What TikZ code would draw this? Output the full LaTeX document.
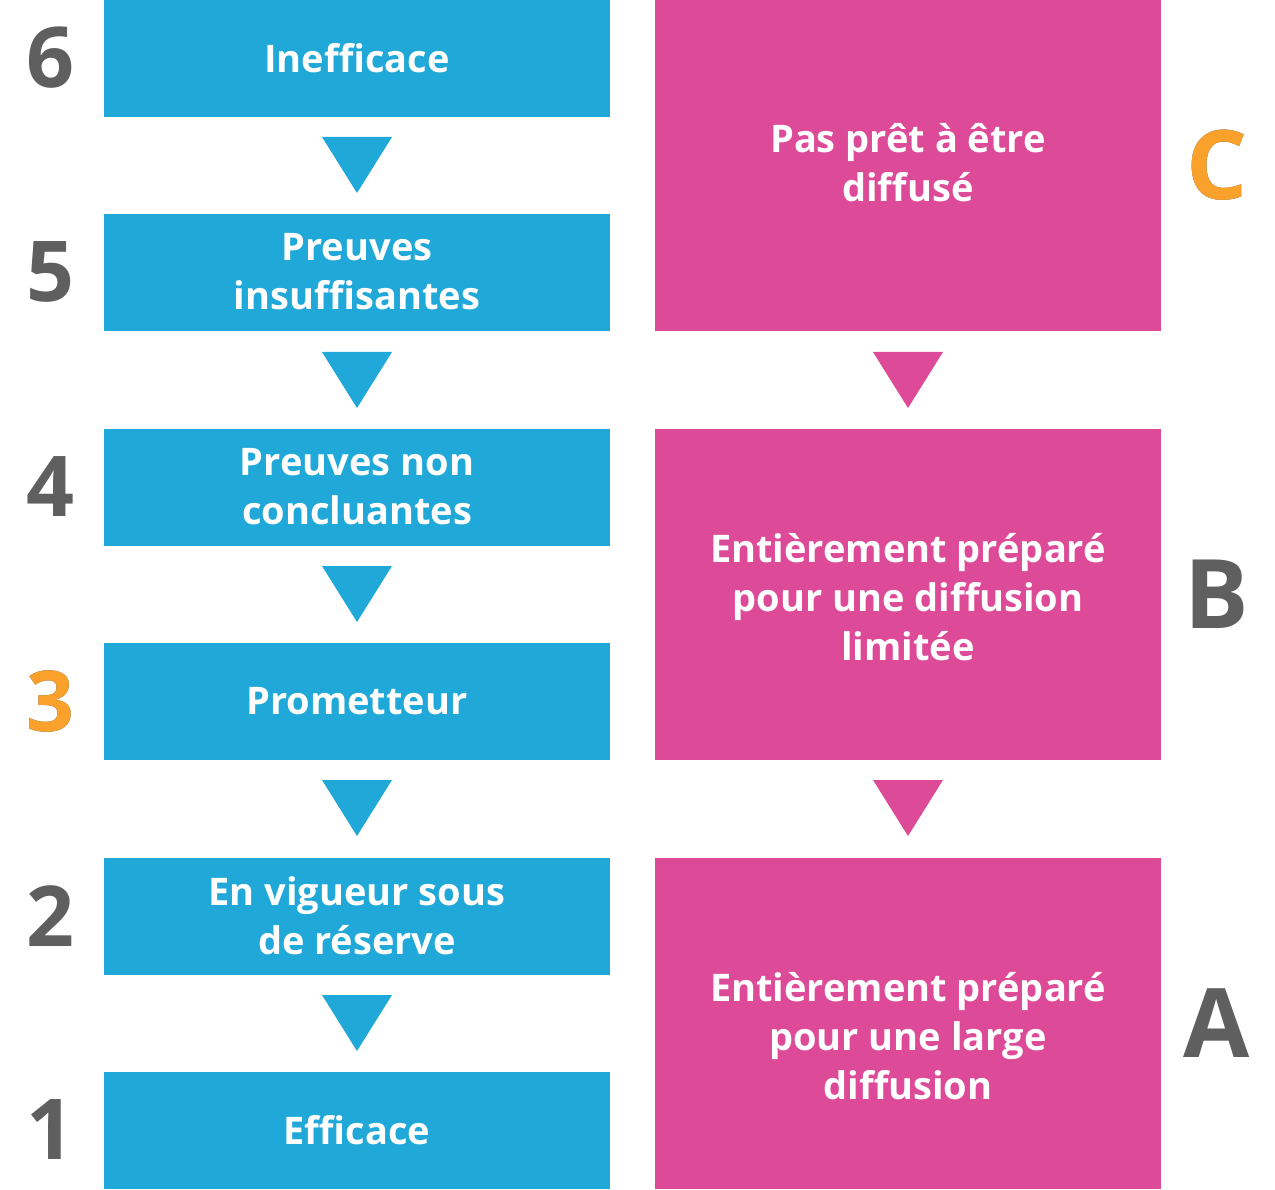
\documentclass[tikz,border=0pt]{standalone}
\usepackage{fontspec}
\setmainfont{Open Sans}
\definecolor{cblue}{HTML}{1FA8D8}
\definecolor{cpink}{HTML}{DD4A98}
\definecolor{cgray}{HTML}{5F5F5F}
\definecolor{corange}{HTML}{F9A12A}
\begin{document}
\begin{tikzpicture}[x=1pt,y=-1pt,
  bbox/.style={fill=cblue,text=white,font=\fontsize{38}{49}\selectfont\bfseries,align=center},
  pbox/.style={fill=cpink,text=white,font=\fontsize{38}{49}\selectfont\bfseries,align=center},
  num/.style={text=cgray,font=\fontsize{84}{84}\selectfont\bfseries},
  lett/.style={text=cgray,font=\fontsize{96}{96}\selectfont\bfseries}]
\useasboundingbox (0,0) rectangle (1275,1190);
\foreach \t/\txt/\n in {0/Inefficace/6, 214/{Preuves\\insuffisantes}/5, 429/{Preuves non\\concluantes}/4, 643/Prometteur/3, 858/{En vigueur sous\\de réserve}/2, 1072/Efficace/1}{
  \fill[cblue] (104,\t) rectangle (610,\t+117);
  \node[bbox] (b\n) at (357,\t+58) {\txt};
  \node[num] (n\n) at (50,\t+58) {\n};
}
\node[num,text=corange] at (n3) {3};
\foreach \t in {137,352,566,780,995}{
  \fill[cblue] (322,\t) -- (392,\t) -- (357,\t+56) -- cycle;
}
\foreach \t/\h/\txt/\l in {0/331/{Pas prêt à être\\diffusé}/C, 429/331/{Entièrement préparé\\pour une diffusion\\limitée}/B, 858/331/{Entièrement préparé\\pour une large\\diffusion}/A}{
  \fill[cpink] (655,\t) rectangle (1161,\t+\h);
  \node[lett] (l\l) at (1217,\t+165) {\l};
}
\node[pbox] (pc) at (908,163) {Pas prêt à être\\diffusé};
\node[pbox] (pb) at (908,597) {Entièrement préparé\\pour une diffusion\\limitée};
\node[pbox] (pa) at (908,1036) {Entièrement préparé\\pour une large\\diffusion};
\node[lett,text=corange] at (lC) {C};
\foreach \t in {352,780}{
  \fill[cpink] (873,\t) -- (943,\t) -- (908,\t+56) -- cycle;
}
\end{tikzpicture}
\end{document}
